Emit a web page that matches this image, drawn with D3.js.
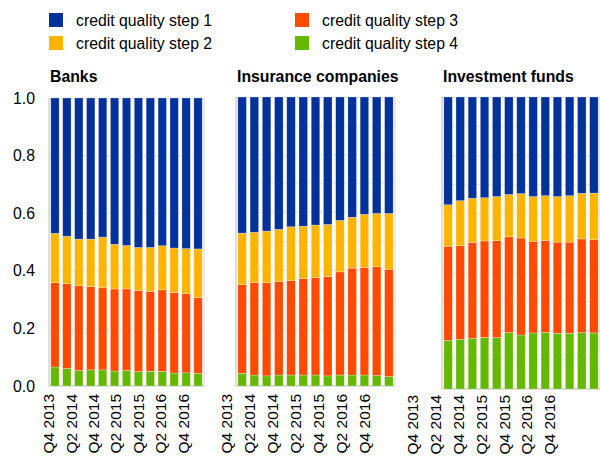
<!DOCTYPE html>
<html>
<head>
<meta charset="utf-8">
<script src="https://cdn.jsdelivr.net/npm/d3@7"></script>
<style>
  body { margin: 0; background: #fff; }
  text { font-family: "Liberation Sans", Arial, sans-serif; fill: #000; }
</style>
</head>
<body>
<svg id="chart" width="600" height="457"></svg>
<script>
// quarters shown on the x axis
var quarters = ["Q4 2013","Q1 2014","Q2 2014","Q3 2014","Q4 2014","Q1 2015","Q2 2015",
                "Q3 2015","Q4 2015","Q1 2016","Q2 2016","Q3 2016","Q4 2016"];
var tickLabels = ["Q4 2013","Q2 2014","Q4 2014","Q2 2015","Q4 2015","Q2 2016","Q4 2016"];
var seriesNames = ["credit quality step 1","credit quality step 2","credit quality step 3","credit quality step 4"];
var colors = ["#003299","#FFB400","#FF4B00","#65B800"];
var yTicks = [0, 0.2, 0.4, 0.6, 0.8, 1.0];

// shares per sector (step 1..4)
var banksStep1 = [0.470,0.480,0.490,0.490,0.483,0.508,0.512,0.519,0.519,0.513,0.521,0.523,0.524];
var banksStep2 = [0.171,0.165,0.162,0.165,0.176,0.155,0.151,0.150,0.153,0.153,0.154,0.156,0.169];
var banksStep3 = [0.293,0.294,0.294,0.289,0.285,0.285,0.283,0.281,0.277,0.283,0.280,0.275,0.263];
var banksStep4 = [0.066,0.061,0.054,0.056,0.056,0.052,0.054,0.050,0.051,0.051,0.045,0.046,0.044];

var insStep1 = [0.471,0.468,0.464,0.458,0.449,0.447,0.443,0.441,0.427,0.416,0.406,0.403,0.403];
var insStep2 = [0.178,0.174,0.178,0.181,0.186,0.181,0.182,0.180,0.178,0.176,0.184,0.184,0.193];
var insStep3 = [0.307,0.320,0.323,0.323,0.327,0.334,0.337,0.344,0.357,0.370,0.372,0.377,0.371];
var insStep4 = [0.044,0.038,0.035,0.038,0.038,0.038,0.038,0.035,0.038,0.038,0.038,0.036,0.033];

var fundsStep1 = [0.369,0.355,0.347,0.345,0.341,0.334,0.331,0.341,0.338,0.341,0.338,0.330,0.329];
var fundsStep2 = [0.142,0.154,0.151,0.148,0.151,0.145,0.152,0.153,0.153,0.156,0.159,0.156,0.160];
var fundsStep3 = [0.322,0.321,0.328,0.330,0.332,0.328,0.332,0.314,0.315,0.312,0.312,0.321,0.319];
var fundsStep4 = [0.167,0.170,0.174,0.177,0.176,0.193,0.185,0.192,0.194,0.191,0.191,0.193,0.192];

// panel layout (pixels)
var panels = [
  {title: "Banks", series: [banksStep1,banksStep2,banksStep3,banksStep4],
   x0: 49, x1: 204, top: 98, bottom: 386, labelShift: 0, labelTop: 394, gridStep: 0.2, showY: true},
  {title: "Insurance companies", series: [insStep1,insStep2,insStep3,insStep4],
   x0: 236, x1: 395, top: 97, bottom: 386, labelShift: -9, labelTop: 394, gridStep: 0.1, showY: false},
  {title: "Investment funds", series: [fundsStep1,fundsStep2,fundsStep3,fundsStep4],
   x0: 442, x1: 600, top: 97, bottom: 389, labelShift: -29, labelTop: 395, gridStep: 0.1, showY: false}
];

var svg = d3.select("#chart");
var fontSize = 15.8;

// legend
var legend = svg.append("g");
seriesNames.forEach(function(name, i) {
  var col = Math.floor(i / 2), row = i % 2;
  var g = legend.append("g")
    .attr("transform", "translate(" + (49 + col * 246) + "," + (13 + row * 23) + ")");
  g.append("rect").attr("width", 14).attr("height", 14).attr("fill", colors[i]);
  g.append("text").attr("x", 27).attr("y", 13).style("font-size", fontSize + "px").text(name);
});

panels.forEach(function(p) {
  var g = svg.append("g");

  var x = d3.scaleBand()
    .domain(quarters)
    .range([p.x0, p.x1])
    .paddingInner(0.3)
    .paddingOuter(0.15);

  var y = d3.scaleLinear().domain([0, 1]).range([p.bottom, p.top]);

  // gridlines
  var grid = d3.range(0, 1.0001, p.gridStep);
  g.selectAll(".grid").data(grid).enter().append("line")
    .attr("x1", p.x0).attr("x2", p.x1)
    .attr("y1", function(d) { return y(d); })
    .attr("y2", function(d) { return y(d); })
    .attr("stroke", "#e3e3e3").attr("stroke-width", 1);

  // frame
  g.append("line").attr("x1", p.x0).attr("x2", p.x0).attr("y1", p.top).attr("y2", p.bottom)
    .attr("stroke", "#d4d4d4").attr("stroke-width", 1.5);
  g.append("line").attr("x1", p.x1).attr("x2", p.x1).attr("y1", p.top).attr("y2", p.bottom)
    .attr("stroke", "#e3e3e3").attr("stroke-width", 1.5);
  g.append("line").attr("x1", p.x0).attr("x2", p.x1).attr("y1", p.bottom).attr("y2", p.bottom)
    .attr("stroke", "#d4d4d4").attr("stroke-width", 1.5);

  // stack: step 4 at the bottom, step 1 on top
  var rows = quarters.map(function(q, i) {
    var r = {q: q};
    p.series.forEach(function(s, k) { r["s" + k] = s[i]; });
    return r;
  });
  var stack = d3.stack().keys(["s3", "s2", "s1", "s0"]);
  var layers = stack(rows);

  g.selectAll(".layer").data(layers).enter().append("g")
    .attr("fill", function(d) { return colors[+d.key.slice(1)]; })
    .selectAll("rect").data(function(d) { return d; }).enter().append("rect")
    .attr("x", function(d) { return x(d.data.q); })
    .attr("width", x.bandwidth())
    .attr("y", function(d) { return y(d[1]); })
    .attr("height", function(d) { return y(d[0]) - y(d[1]); })
    .attr("stroke", "rgba(255,255,255,0.45)")
    .attr("stroke-width", 0.6);

  // x labels (point scale over the tick labels)
  var xl = d3.scalePoint()
    .domain(tickLabels)
    .range([p.x0 + p.labelShift, p.x0 + p.labelShift + (p.x1 - p.x0) * 0.865]);
  g.selectAll(".xl").data(tickLabels).enter().append("text")
    .attr("transform", function(d) { return "translate(" + xl(d) + "," + p.labelTop + ") rotate(-90)"; })
    .attr("text-anchor", "end")
    .attr("dy", "0.35em")
    .style("font-size", "15.5px")
    .text(function(d) { return d; });

  // title
  g.append("text")
    .attr("x", p.x0 + 1).attr("y", 82)
    .style("font-size", fontSize + "px")
    .style("font-weight", "bold")
    .text(p.title);

  if (p.showY) {
    g.selectAll(".yl").data(yTicks).enter().append("text")
      .attr("x", 35)
      .attr("y", function(d) { return y(d); })
      .attr("dy", "0.35em")
      .attr("text-anchor", "end")
      .style("font-size", fontSize + "px")
      .text(function(d) { return d3.format(".1f")(d); });
  }
});
</script>
</body>
</html>
